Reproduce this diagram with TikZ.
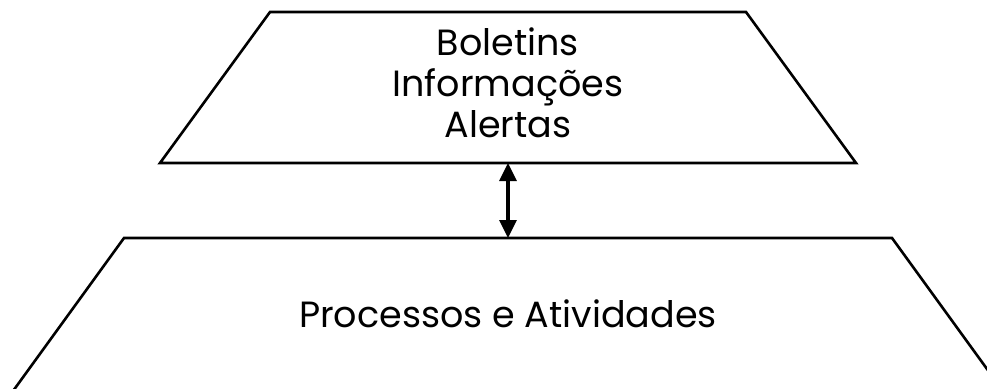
\documentclass[tikz,border=0pt]{standalone}
\usepackage{fontspec}
\setmainfont{Poppins}
\usetikzlibrary{arrows.meta}
\begin{document}
\begin{tikzpicture}[x=1pt,y=-1pt,
  shapeline/.style={line width=2.6pt,line join=miter},
  label/.style={font=\fontsize{36.5}{40}\selectfont,anchor=base,inner sep=0pt},
  link/.style={line width=3.3pt,{Triangle[width=17pt,length=18pt]}-{Triangle[width=17pt,length=18pt]}}]
\useasboundingbox (0,0) rectangle (987,388);
\clip (0,0) rectangle (987,388);
% top trapezoid
\coordinate (tA) at (270,12);
\coordinate (tB) at (746,12);
\coordinate (tC) at (856,163);
\coordinate (tD) at (160,163);
\draw[shapeline] (tA) -- (tB) -- (tC) -- (tD) -- cycle;
% bottom trapezoid
\coordinate (bA) at (124,238);
\coordinate (bB) at (892,238);
\coordinate (bC) at (1024,420);
\coordinate (bD) at (-8,420);
\draw[shapeline] (bA) -- (bB) -- (bC) -- (bD) -- cycle;
% texts
\node[label] (l1) at (508,55) {Boletins};
\node[label] (l2) at (508,96) {Informações};
\node[label] (l3) at (508,137) {Alertas};
\node[label] (l4) at (508,327) {Processos e Atividades};
% connector
\coordinate (up) at (508,163);
\coordinate (down) at (508,238);
\draw[link] (up) -- (down);
\end{tikzpicture}
\end{document}
